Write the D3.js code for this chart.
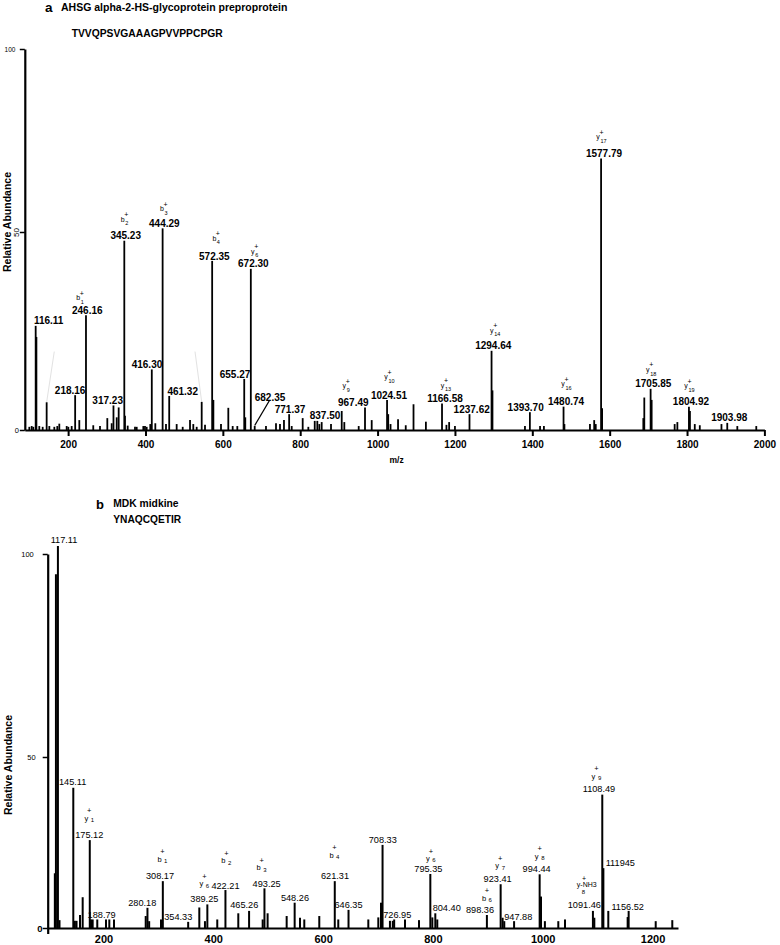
<!DOCTYPE html>
<html><head><meta charset="utf-8">
<script src="https://cdn.jsdelivr.net/npm/d3@7"></script>
<style>body{margin:0;background:#fff}svg{display:block}</style>
</head><body>
<svg id="c" width="780" height="945"></svg>
<script>
// ================= DATA =================
// Panel a: AHSG, TVVQPSVGAAAGPVVPPCPGR
const mzA = [99.7,105.8,110,116.11,118,125.5,134.2,144.5,151.4,164.3,172,177.2,196.3,200.5,209.2,218.16,228.9,246.16,265,282.4,
  301.3,312.6,317.23,325.6,330.7,345.23,347,354,372.9,377.3,394.4,398.7,403.1,412.4,416.30,425.4,444.29,453,461.32,480.6,
  496.2,515.1,523.6,532.4,545.3,553.9,572.35,575.5,595.2,614.1,625.4,637.4,655.27,658,672.30,682.35,711.5,737.4,747.7,758,
  771.37,778,806.4,821,837.50,844.2,849.4,855.5,879.6,907.3,914,951.2,967.49,984.8,1024.51,1027.5,1033.5,1052.9,1072.8,1092.9,
  1124.9,1166.58,1178,1185,1200,1237.62,1294.64,1297,1381,1393.70,1420,1430,1480.74,1483,1549,1560,1564,1577.79,1580.5,1687,
  1689.5,1705.85,1708.5,1768,1775,1804.92,1807.5,1820,1833,1889,1903.98,1930,1979];
const intA = [0.8,1,0.8,26.3,23.5,1,0.8,7.0,1,0.8,1,1.6,1,0.8,1,8.8,2.5,29,1.2,1,
  3.0,1.7,6.2,3.2,5.7,47.8,3.6,1.1,0.8,0.8,1,1,0.8,1.5,15.3,1.7,51,1.5,8.6,1.5,
  0.8,2.5,1.5,0.8,7.1,1.3,42.7,7.6,1.5,5.6,1,1,12.9,3.2,40.7,1.0,1,1.7,1.5,2.5,
  4.0,1,3.0,0.8,2.3,2.3,1.5,2,1.5,4.8,2,1,5.7,2.5,7.6,4,1.5,2.7,1.2,6.5,
  2.1,6.7,1.3,2,1,4.0,20,10,1,4.5,1,1,5.9,1.5,1.5,2.5,1.5,70.1,5.5,3,
  8.2,10.4,7.6,1.5,2,5.9,4.8,1.5,1.2,1.5,1.8,1,1];
const labelsA = ["116.11","218.16","246.16","317.23","345.23","416.30","444.29","461.32","572.35","655.27","672.30","682.35",
  "771.37","837.50","967.49","1024.51","1166.58","1237.62","1294.64","1393.70","1480.74","1577.79","1705.85","1804.92","1903.98"];
const ionsA = {"246.16":["b","1"],"345.23":["b","2"],"444.29":["b","3"],"572.35":["b","4"],"672.30":["y","6"],
  "967.49":["y","9"],"1024.51":["y","10"],"1166.58":["y","13"],"1294.64":["y","14"],"1480.74":["y","16"],
  "1577.79":["y","17"],"1705.85":["y","18"],"1804.92":["y","19"]};
const ticksA = [200,400,600,800,1000,1200,1400,1600,1800,2000];
const yTicks = [0,50,100];
const faintA = [[164.2,19.8,144.5,7.0],[528,19.8,545.3,7.1]];

// Panel b: MDK, YNAQCQETIR
const mzB = [111.5,113.5,117.11,120,145.11,148,151,157.3,162.2,175.12,177.5,180.4,188.79,204.7,210.7,219.2,277,280.18,283.3,304.8,
  308.17,354.33,374.6,384.9,389.25,407.3,422.21,445.6,465.26,490,493.25,499,533.7,548.26,558,565.8,593.1,621.31,627.7,646.35,
  682.4,700.6,705.5,708.33,721.8,726.95,729.5,749.2,774.7,795.35,799,804.40,808,898.36,923.41,927,930,947.88,994.44,996.9,
  1004,1028.4,1040.6,1091.46,1094,1108.49,1110.5,1119.45,1154.7,1156.52,1205.8,1236];
const intB = [16,95,102,2.3,41,2.1,2.1,3.8,9.0,25.7,2.5,2.5,2.5,2.5,2.5,2.5,3.5,5.9,2,2.5,
  13.7,1.8,6.0,2,6.9,2.5,11.1,4.3,5.0,2.5,11.6,4.3,3.5,7.4,3,2.5,3.5,13.7,2.5,5.3,
  2.5,3.1,7.4,24.3,2.1,2.1,2.5,2.5,2.3,15.8,3.1,4.3,2.5,3.8,12.8,3,2,2.0,15.7,9.2,
  2.0,2.0,2.5,5.0,3.0,39,17.5,5.0,3.2,5.0,2.0,2.3];
const labelsB = ["117.11","145.11","175.12","188.79","280.18","308.17","354.33","389.25","422.21","465.26","493.25","548.26",
  "621.31","646.35","708.33","726.95","795.35","804.40","898.36","923.41","947.88","994.44","1091.46","1108.49","111945","1156.52"];
const labelMzB = [117.11,145.11,175.12,188.79,280.18,308.17,354.33,389.25,422.21,465.26,493.25,548.26,
  621.31,646.35,708.33,726.95,795.35,804.40,898.36,923.41,947.88,994.44,1091.46,1108.49,1110.5,1156.52];
const ionsB = {"175.12":["y","1"],"308.17":["b","1"],"389.25":["y","6"],"422.21":["b","2"],"493.25":["b","3"],
  "621.31":["b","4"],"795.35":["y","6"],"898.36":["b","6"],"923.41":["y","7"],"994.44":["y","8"],
  "1091.46":["y-NH3","8"],"1108.49":["y","9"]};
const ticksB = [200,400,600,800,1000,1200];

// ================= LAYOUT (label nudges, px) =================
const nudgeA = {"116.11":[13,0],"218.16":[-5,0],"246.16":[1.3,0],"317.23":[-5.8,0],"345.23":[1.4,0],"416.30":[-4.8,0],
  "444.29":[1.7,0],"461.32":[13.5,0],"572.35":[2.2,0],"655.27":[-9.2,0],"672.30":[2.5,0],"682.35":[15.3,-23.7],
  "771.37":[0.9,0],"837.50":[10.3,0],"967.49":[-11.7,0],"1024.51":[1.9,0],"1166.58":[3,0],"1237.62":[2.2,0],
  "1294.64":[1.7,0],"1393.70":[-4.2,0],"1480.74":[2.5,0],"1577.79":[2.9,0],"1705.85":[2.7,0],"1804.92":[2,0],"1903.98":[2,0]};
const ionNudgeA = {"246.16":[-6,3.5],"345.23":[0,-1],"444.29":[0.7,1.3],"572.35":[3,-2],"672.30":[2.5,3],"967.49":[-6,-1],
  "1024.51":[0,-2.5],"1166.58":[0.5,2.5],"1294.64":[1.5,0],"1480.74":[0,-2],"1577.79":[-3,-1],"1705.85":[-2.5,1.5],"1804.92":[-2,0]};
const nudgeB = {"117.11":[6.1,-0.5],"145.11":[-0.6,-0.5],"175.12":[-0.5,0],"188.79":[4.4,1],"280.18":[-5.2,0.5],"308.17":[-2.8,0.5],
  "354.33":[-9.9,0.5],"389.25":[-3,-0.5],"422.21":[0,1.5],"465.26":[-4.8,-0.5],"493.25":[2.2,1.2],"548.26":[0.3,0],
  "621.31":[0.2,0.5],"646.35":[0,0],"708.33":[0.2,0],"726.95":[4.5,-1],"795.35":[-2,0],"804.40":[11.4,0],"898.36":[-6.9,0],
  "923.41":[-3,0.3],"947.88":[4.2,0.7],"994.44":[-3,-0.5],"1091.46":[-8.6,-1],"1108.49":[-3.3,-0.8],"111945":[2.3,0],"1156.52":[-1,1.3]};
const ionNudgeB = {"175.12":[-1,-2],"308.17":[1.5,-2],"389.25":[-1,0],"422.21":[0,-10.5],"493.25":[-6,-1.5],"621.31":[-1.5,-6],
  "795.35":[1.5,4.8],"898.36":[6,3.5],"923.41":[1.5,1.5],"994.44":[2,2.5],"1108.49":[-3.5,2.5],"1091.46":[0,0]};

// ================= DRAW =================
const svg = d3.select("#c");
const FONT = "'Liberation Sans', Arial, Helvetica, sans-serif";
const NARROW = "'Liberation Sans Narrow', 'Arial Narrow', 'Liberation Sans', sans-serif";
const fmt = d3.format("d");

function put(g, s, cx, cy, size, o = {}) {
  const k = o.lower ? 0.26 : (o.plus ? 0.30 : 0.36);
  return g.append("text").text(s)
    .attr("x", cx).attr("y", cy + k * size)
    .attr("text-anchor", o.anchor || "middle")
    .attr("font-family", o.family || FONT)
    .attr("font-weight", o.bold ? "bold" : "normal")
    .attr("font-size", size).attr("fill", "#000");
}
function peaks(g, mz, it, x, y, w) {
  g.append("g").selectAll("line").data(d3.zip(mz, it)).join("line")
    .attr("x1", d => x(d[0])).attr("x2", d => x(d[0]))
    .attr("y1", y(0)).attr("y2", d => y(d[1]))
    .attr("stroke", "#000").attr("stroke-width", w);
}

// ---------- Panel a ----------
const xA = d3.scaleLinear().domain([88, 2000]).range([24.8, 764.4]);
const yA = d3.scaleLinear().domain([0, 50, 100]).range([430, 232, 49]);
const gA = svg.append("g");
const intMapA = new Map(d3.zip(mzA, intA));

gA.append("g").selectAll("line").data(faintA).join("line")
  .attr("x1", d => xA(d[0])).attr("y1", d => yA(d[1]))
  .attr("x2", d => xA(d[2])).attr("y2", d => yA(d[3]))
  .attr("stroke", "#e2e2e2").attr("stroke-width", 1);
peaks(gA, mzA, intA, xA, yA, 1.8);

const gxA = gA.append("g").attr("transform", `translate(0,${yA(0)})`)
  .call(d3.axisBottom(xA).tickValues(ticksA).tickFormat(fmt).tickSize(6).tickSizeOuter(0).tickPadding(5));
gxA.select(".domain").attr("stroke", "#000").attr("stroke-width", 2);
gxA.selectAll(".tick line").attr("stroke", "#000").attr("stroke-width", 2);
gxA.selectAll("text").attr("font-family", FONT).attr("font-weight", "bold").attr("font-size", 10).attr("fill", "#000");

const gyA = gA.append("g").attr("transform", `translate(${xA.range()[0]},0)`)
  .call(d3.axisLeft(yA).tickValues(yTicks).tickFormat(fmt).tickSize(5).tickSizeOuter(0));
gyA.select(".domain").attr("stroke", "#000").attr("stroke-width", 2.2);
gyA.selectAll(".tick line").attr("stroke", "#000").attr("stroke-width", 1.5);
gyA.selectAll(".tick").each(function (d) {
  const t = d3.select(this).select("text").attr("fill", "#000").attr("text-anchor", "middle").attr("dy", "0.35em");
  if (d === 100) t.attr("font-family", NARROW).attr("font-size", 6.5).attr("x", -14.8);
  if (d === 50) t.attr("font-family", NARROW).attr("font-size", 8).attr("x", 0)
                 .attr("transform", "translate(-8.8,0) rotate(-90)");
  if (d === 0) t.attr("font-family", FONT).attr("font-size", 7.5).attr("x", -8.1);
});

put(gA, "m/z", (xA.range()[0] + xA.range()[1]) / 2 + 2, 460, 8.5, {bold: true});
gA.append("text").text("Relative Abundance")
  .attr("transform", "translate(11,222) rotate(-90)").attr("text-anchor", "middle")
  .attr("font-family", FONT).attr("font-weight", "bold").attr("font-size", 10.5).attr("fill", "#000");
gA.append("text").text("a").attr("x", 45).attr("y", 12)
  .attr("font-family", FONT).attr("font-weight", "bold").attr("font-size", 13.5).attr("fill", "#000");
gA.append("text").text("AHSG alpha-2-HS-glycoprotein preproprotein").attr("x", 61).attr("y", 10.5)
  .attr("font-family", FONT).attr("font-weight", "bold").attr("font-size", 10.5).attr("fill", "#000");
gA.append("text").text("TVVQPSVGAAAGPVVPPCPGR").attr("x", 71.7).attr("y", 37)
  .attr("font-family", FONT).attr("font-weight", "bold").attr("font-size", 10.3).attr("fill", "#000");

labelsA.forEach(t => {
  const m = +t, v = intMapA.get(m);
  const [dx, dy] = nudgeA[t] || [1.5, 0];
  const bx = xA(m), by = yA(v);
  const cx = bx + dx, cy = by - 5 + dy;
  put(gA, t, cx, cy, 10, {bold: true});
  if (t === "682.35") {
    gA.append("line").attr("x1", bx).attr("y1", by - 0.5).attr("x2", cx - 0.7).attr("y2", cy + 3.4)
      .attr("stroke", "#000").attr("stroke-width", 1.3);
  }
  const ion = ionsA[t];
  if (ion) {
    const [ix, iy] = ionNudgeA[t] || [0, 0];
    put(gA, ion[0], cx - 3 + ix, cy - 15 + iy, 7, {lower: true});
    put(gA, ion[1], cx - 0.5 + ix, cy - 11.5 + iy, 5.5, {anchor: "start"});
    put(gA, "+", cx + 0.5 + ix, cy - 20 + iy, 7, {plus: true});
  }
});

// ---------- Panel b ----------
const xB = d3.scaleLinear().domain([98.5, 1246.4]).range([47.7, 678]);
const yB = d3.scaleLinear().domain([0, 50, 100]).range([928, 757, 554]);
const gB = svg.append("g");
const intMapB = new Map(d3.zip(mzB, intB));

peaks(gB, mzB, intB, xB, yB, 2);

const gxB = gB.append("g").attr("transform", `translate(0,${yB(0)})`)
  .call(d3.axisBottom(xB).tickValues([xB.domain()[0]].concat(ticksB)).tickFormat(fmt).tickSize(6).tickSizeOuter(0).tickPadding(1.4));
gxB.select(".domain").attr("stroke", "#000").attr("stroke-width", 2);
gxB.selectAll(".tick").each(function (d, i) {
  const s = d3.select(this);
  s.select("line").attr("stroke", "#000").attr("stroke-width", 2.2).attr("y2", i === 0 ? 6 : 0);
  if (i === 0) s.select("text").remove();
});
gxB.selectAll("text").attr("font-family", NARROW).attr("font-weight", "bold").attr("font-size", 11).attr("fill", "#000");

const gyB = gB.append("g").attr("transform", `translate(${xB.range()[0]},0)`)
  .call(d3.axisLeft(yB).tickValues(yTicks).tickFormat(fmt).tickSize(5).tickSizeOuter(0));
gyB.select(".domain").attr("stroke", "#000").attr("stroke-width", 2.2);
gyB.selectAll(".tick line").attr("stroke", "#000").attr("stroke-width", 1.5);
gyB.selectAll(".tick").each(function (d) {
  const t = d3.select(this).select("text").attr("fill", "#000").attr("text-anchor", "middle").attr("dy", "0.35em")
    .attr("font-family", NARROW);
  if (d === 100) t.attr("font-size", 7.5).attr("x", -20.2);
  if (d === 50) t.attr("font-size", 7.5).attr("x", -16.2);
  if (d === 0) t.attr("font-size", 9.5).attr("font-weight", "bold").attr("x", -7.7);
});

gB.append("text").text("Relative Abundance")
  .attr("transform", "translate(11.5,765) rotate(-90)").attr("text-anchor", "middle")
  .attr("font-family", FONT).attr("font-weight", "bold").attr("font-size", 10.5).attr("fill", "#000");
gB.append("text").text("b").attr("x", 96).attr("y", 509.3)
  .attr("font-family", FONT).attr("font-weight", "bold").attr("font-size", 13).attr("fill", "#000");
gB.append("text").text("MDK midkine").attr("x", 113.3).attr("y", 506.7)
  .attr("font-family", FONT).attr("font-weight", "bold").attr("font-size", 10.3).attr("fill", "#000");
gB.append("text").text("YNAQCQETIR").attr("x", 113.3).attr("y", 522.7)
  .attr("font-family", FONT).attr("font-weight", "bold").attr("font-size", 10.2).attr("fill", "#000");

labelsB.forEach((t, i) => {
  const m = labelMzB[i], v = intMapB.get(m);
  const [dx, dy] = nudgeB[t] || [0, 0];
  const bx = xB(m), by = yB(v);
  const cx = bx + dx, cy = by - 5.5 + dy;
  if (t === "111945") put(gB, t, cx, cy, 9.2, {family: NARROW, anchor: "start"});
  else put(gB, t, cx, cy, 9.2, {family: NARROW});
  const ion = ionsB[t];
  if (ion) {
    const [ix, iy] = ionNudgeB[t] || [0, 0];
    if (ion[0].length > 1) {
      put(gB, "+", cx - 0.3 + ix, cy - 26 + iy, 7, {plus: true, family: NARROW});
      put(gB, ion[0], cx + 2.4 + ix, cy - 20 + iy, 7, {family: NARROW});
      put(gB, ion[1], cx - 1 + ix, cy - 12.6 + iy, 6, {family: NARROW});
    } else {
      put(gB, ion[0], cx - 2 + ix, cy - 14 + iy, 7.5, {lower: true, family: NARROW});
      put(gB, ion[1], cx + 2.5 + ix, cy - 13 + iy, 6, {anchor: "start", family: NARROW});
      put(gB, "+", cx + 1 + ix, cy - 22 + iy, 7.5, {plus: true, family: NARROW});
    }
  }
});
</script>
</body></html>
